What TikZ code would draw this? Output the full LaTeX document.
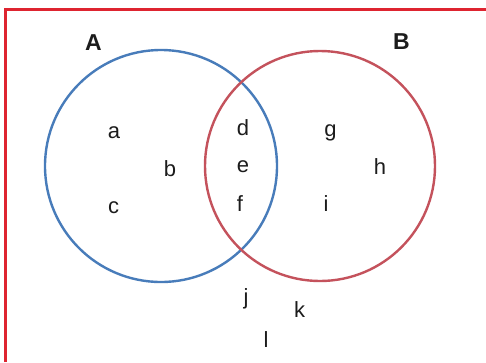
\documentclass[tikz,border=0pt]{standalone}
\usepackage{fontspec}
\setmainfont{Liberation Sans}
\definecolor{frame}{RGB}{222,36,48}
\definecolor{setblue}{RGB}{72,124,186}
\definecolor{setred}{RGB}{196,82,92}
\definecolor{ink}{RGB}{28,28,28}
\begin{document}
\begin{tikzpicture}[x=1pt,y=-1pt,
  elem/.style={anchor=base,inner sep=0pt,text=ink,font=\fontsize{22}{26}\selectfont},
  setlabel/.style={anchor=base,inner sep=0pt,text=ink,font=\fontsize{23}{27}\selectfont\bfseries},
  setcircle/.style={line width=2.4pt}]
\useasboundingbox (0,0) rectangle (486,362);
\fill[white] (0,0) rectangle (486,362);
\coordinate (fb) at (5,362);
\coordinate (fc) at (5,9);
\coordinate (fr) at (486,9);
\draw[frame,line width=3pt] (fb) -- (fc) -- (fr);
\draw[setcircle,setblue] (161,166) circle[radius=116];
\draw[setcircle,setred] (320,166) circle[radius=115];
\node[setlabel] (A) at (93.5,50) {A};
\node[setlabel] (B) at (401.5,49) {B};
\node[elem] (a) at (114,138) {a};
\node[elem] (b) at (170,176) {b};
\node[elem] (c) at (113.5,213) {c};
\node[elem] (d) at (243,135) {d};
\node[elem] (e) at (243,172) {e};
\node[elem] (f) at (240,211) {f};
\node[elem] (g) at (330.5,136) {g};
\node[elem] (h) at (380,174) {h};
\node[elem] (i) at (326,211) {i};
\node[elem] (j) at (246,304) {j};
\node[elem] (k) at (299.5,317) {k};
\node[elem] (l) at (266,347) {l};
\end{tikzpicture}
\end{document}
